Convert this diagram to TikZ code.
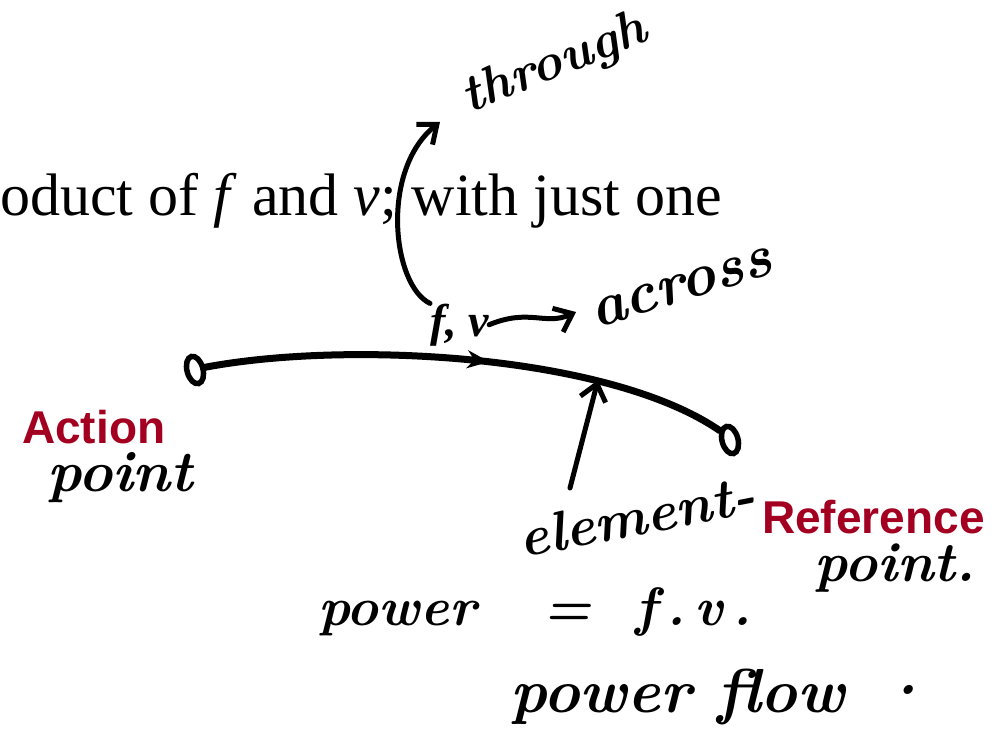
\documentclass[tikz,border=0pt]{standalone}
\usepackage{fontspec}
\newfontfamily\slidefont{Liberation Serif}
\newfontfamily\labelfont{Liberation Sans}
\usetikzlibrary{arrows.meta,decorations.markings,shapes.geometric}
\definecolor{refred}{RGB}{163,0,33}
\tikzset{
  hw/.style={font=\fontsize{#1}{#1}\selectfont\bfseries\itshape, inner sep=0pt},
  redlabel/.style={font=\labelfont\bfseries\fontsize{46}{46}\selectfont, text=refred, inner sep=0pt},
  wire/.style={line width=7pt, line cap=round},
  handarrow/.style={line width=5pt, line cap=round, -{Straight Barb[length=16pt,width=26pt,line width=5pt]}},
  term/.style={draw, ellipse, line width=5.5pt, minimum width=16pt, minimum height=28pt, inner sep=0pt, rotate=15}
}
\begin{document}
\begin{tikzpicture}[x=1pt,y=-1pt]
\useasboundingbox (0,0) rectangle (1007,752);
% printed sentence
\node[anchor=base west, inner sep=0pt, font=\slidefont\fontsize{60}{60}\selectfont] (sentence) at (0,215)
  {oduct of \textit{f} and \textit{v}; with just one};
% terminals and element wire
\node[term] (a) at (195,370) {};
\node[term] (b) at (730,440) {};
\draw[wire, postaction={decorate, decoration={markings, mark=at position 0.54 with {\arrow{Stealth[length=22pt,width=18pt]}}}}]
  (a.east) .. controls (350,340) and (610,355) .. (b.north west);
\coordinate (onwire) at (598,380);
% f, v label
\node[anchor=base west, inner sep=0pt, font=\slidefont\bfseries\itshape\fontsize{46}{46}\selectfont] (fv) at (430,336) {f, v};
% handwritten labels
\node[hw=52, rotate=22] (through) at (555,65) {through};
\node[hw=60, rotate=17] (across) at (682,288) {across};
\node[hw=56, rotate=11] (element) at (637,516) {element-};
\node[redlabel, anchor=base west] (action) at (22,443) {Action};
\node[hw=58] (actionpt) at (120,478) {point};
\node[redlabel, anchor=base west] (reference) at (762,533) {Reference};
\node[hw=56] (refpt) at (895,568) {point.};
\node[hw=54, anchor=base west] (power) at (318,625) {power~~~=~~f\,.\,v\,.};
\node[hw=62, anchor=base west] (flow) at (510,712) {power flow~~\raisebox{18pt}{.}};
% connectors
\coordinate (thrtip) at (440,122);
\coordinate (elstart) at (570,488);
\draw[handarrow] (fv.north west) .. controls (392,285) and (380,170) .. (thrtip);
\draw[handarrow] (fv.east) .. controls (530,308) and (545,326) .. (576,312);
\draw[handarrow] (elstart) -- (onwire);
\end{tikzpicture}
\end{document}
